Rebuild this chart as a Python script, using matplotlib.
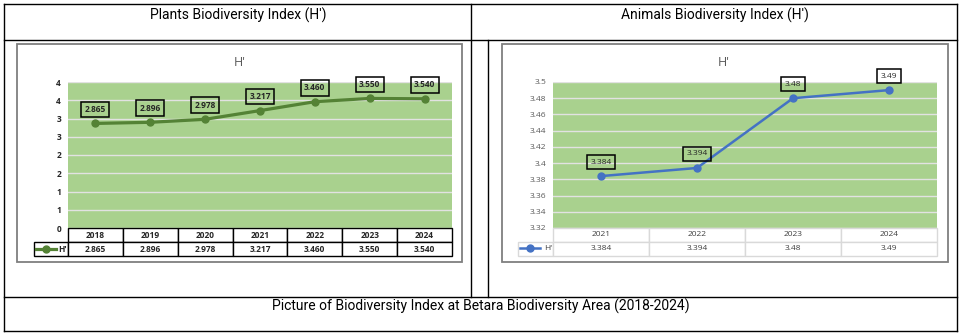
import matplotlib
matplotlib.use('Agg')
import matplotlib.pyplot as plt
from matplotlib.lines import Line2D
from matplotlib.patches import Rectangle

# data
plant_years = ['2018', '2019', '2020', '2021', '2022', '2023', '2024']
plant_h = [2.865, 2.896, 2.978, 3.217, 3.460, 3.550, 3.540]
plant_ticks = [0, 0.5, 1, 1.5, 2, 2.5, 3, 3.5, 4]
plant_ticklabels = ['0', '1', '1', '2', '2', '3', '3', '4', '4']

animal_years = ['2021', '2022', '2023', '2024']
animal_h = [3.384, 3.394, 3.48, 3.49]
animal_labels = ['3.384', '3.394', '3.48', '3.49']
animal_ticks = [3.32, 3.34, 3.36, 3.38, 3.40, 3.42, 3.44, 3.46, 3.48, 3.50]
animal_ticklabels = ['3.32', '3.34', '3.36', '3.38', '3.4', '3.42', '3.44', '3.46', '3.48', '3.5']

headers = ["Plants Biodiversity Index (H\u2032)", "Animals Biodiversity Index (H\u2032)"]
caption = 'Picture of Biodiversity Index at Betara Biodiversity Area (2018-2024)'

W, H = 960, 335
GREEN_BG = '#a9d18e'
chart_font = 'Open Sans'

fig = plt.figure(figsize=(W / 100, H / 100), dpi=100)


def fx(px):
    return px / W


def fy(py):
    return 1 - py / H


def hline(y, x0, x1, **kw):
    fig.add_artist(Line2D([fx(x0), fx(x1)], [fy(y), fy(y)], color='black', lw=1, **kw))


def vline(x, y0, y1, **kw):
    fig.add_artist(Line2D([fx(x), fx(x)], [fy(y0), fy(y1)], color='black', lw=1, **kw))


# outer table grid
hline(4, 4, 957); hline(40, 4, 957); hline(297, 4, 957); hline(331, 4, 957)
vline(4, 4, 331); vline(957, 4, 331); vline(471, 4, 297); vline(488, 40, 297)

fig.text(fx(238), fy(15), headers[0], family='Roboto', fontsize=10, ha='center', va='center')
fig.text(fx(715), fy(15), headers[1], family='Roboto', fontsize=10, ha='center', va='center')
fig.text(fx(481), fy(306), caption, family='Roboto', fontsize=10, ha='center', va='center')


def chart(frame, plot, table_left, years, vals, labels, ticks, ticklabels,
          line_color, grid_edge, tick_color, weight, title_x):
    fx0, fx1 = frame
    fig.add_artist(Rectangle((fx(fx0), fy(262)), fx(fx1 - fx0), (262 - 44) / H,
                             transform=fig.transFigure, fill=True, fc='white',
                             ec='#7f7f7f', lw=1.3, zorder=0))
    fig.text(fx(title_x), fy(62), "H'", family=chart_font, fontsize=9,
             color='#595959', ha='center', va='center')
    px0, px1 = plot
    ax = fig.add_axes([fx(px0), fy(228), fx(px1 - px0), (228 - 82) / H])
    ax.set_facecolor(GREEN_BG)
    n = len(years)
    x = list(range(n))
    line, = ax.plot(x, vals, color=line_color, lw=2.3 if weight == 'bold' else 1.8,
                    marker='o', ms=5, label="H'", zorder=3)
    ax.set_xlim(-0.5, n - 0.5)
    ax.set_ylim(ticks[0], ticks[-1])
    ax.set_yticks(ticks)
    ax.set_yticklabels(ticklabels, family=chart_font, fontsize=6, color=tick_color,
                       fontweight=weight)
    ax.set_xticks([])
    ax.tick_params(axis='y', length=0, pad=5)
    ax.yaxis.grid(True, color='#e2e2e2', lw=1)
    ax.set_axisbelow(True)
    for s in ax.spines.values():
        s.set_visible(False)
    for xi, v, lab in zip(x, vals, labels):
        ax.annotate(lab, (xi, v), xytext=(0, 14), textcoords='offset pixels',
                    ha='center', va='center', family=chart_font, fontsize=6,
                    fontweight=weight, color='#262626',
                    bbox=dict(boxstyle='square,pad=0.4', fc='none', ec='black', lw=1.1),
                    annotation_clip=False, zorder=4)
    # data table under the plot
    pw = px1 - px0
    lw_frac = (px0 - table_left) / pw
    tb = ax.table(cellText=[labels], colLabels=years, rowLabels=["H'"],
                  colWidths=[1 / n] * n,
                  cellLoc='center', rowLoc='right',
                  bbox=[0, -28 / 146, 1, 28 / 146])
    tb.auto_set_font_size(False)
    tb._autoColumns = []
    tb[1, -1].set_width(lw_frac)
    for (r, c), cell in tb.get_celld().items():
        cell.set_edgecolor(grid_edge)
        cell.set_linewidth(1)
        cell.set_facecolor('white')
        cell.PAD = 0.02
        cell.get_text().set_fontsize(6)
        cell.get_text().set_family(chart_font)
        cell.get_text().set_fontweight(weight)
        cell.get_text().set_color('#262626' if weight == 'bold' else '#404040')
    # legend key inside the row label cell
    ax.legend(handles=[line], labels=["H'"], loc='center left',
              bbox_to_anchor=(-lw_frac + 0.004, -21 / 146), frameon=False,
              handlelength=2.4, handletextpad=0.1, borderpad=0, borderaxespad=0,
              prop={'family': chart_font, 'size': 6, 'weight': weight},
              labelcolor='none')
    return ax


chart((17, 462), (68, 452), 34, plant_years, plant_h,
      ['%.3f' % v for v in plant_h], plant_ticks, plant_ticklabels,
      '#548235', 'black', '#262626', 'bold', 240)
chart((502, 948), (553, 937), 518, animal_years, animal_h,
      animal_labels, animal_ticks, animal_ticklabels,
      '#4472c4', '#d9d9d9', '#595959', 'normal', 724)

plt.savefig('out.png', dpi=100)
